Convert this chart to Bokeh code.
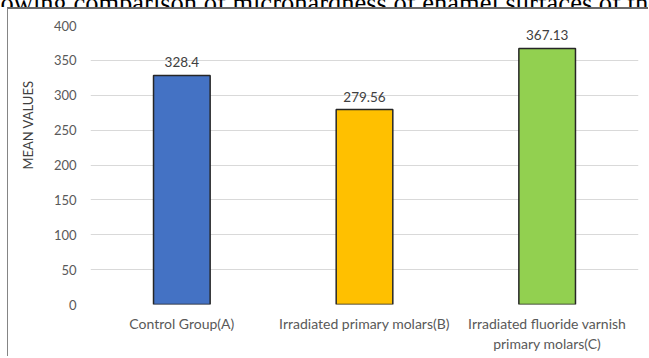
from bokeh.plotting import figure
from bokeh.layouts import column
from bokeh.models import ColumnDataSource, Range1d, FixedTicker, LinearAxis, Div
from bokeh.core.properties import value
from bokeh.embed import file_html
from bokeh.resources import INLINE

categories = ["Control Group(A)", "Irradiated primary molars(B)", "Irradiated fluoride varnish primary molars(C)"]
label_line1 = ["Control Group(A)", "Irradiated primary molars(B)", "Irradiated fluoride varnish"]
label_line2 = ["", "", "primary molars(C)"]
mean_values = [328.4, 279.56, 367.13]
value_labels = ["328.4", "279.56", "367.13"]
bar_colors = ["#4472C4", "#FFC000", "#92D050"]
y_ticks = [0, 50, 100, 150, 200, 250, 300, 350, 400]
caption_text = "showing comparison of microhardness of enamel surfaces of the"
y_title = "MEAN VALUES"

W, H = 641, 349
L, R, T, B = 82, 11, 16, 54

n = len(categories)
centres = [2 * i + 1 for i in range(n)]   # category slot i spans [2i, 2i+2]

p = figure(width=W, height=H, x_range=Range1d(0, 2 * n), y_range=Range1d(0, 400),
           x_axis_location=None, output_backend="svg", toolbar_location=None,
           min_border_left=L, min_border_right=R, min_border_top=T, min_border_bottom=B,
           styles={"margin-left": "7px", "border-left": "1px solid #858585", "border-top": "2px solid #6a6a6a"})
p.outline_line_color = None
p.background_fill_color = "white"
p.border_fill_color = "white"

src = ColumnDataSource(dict(x=centres, cat=categories, top=mean_values, color=bar_colors, lab=value_labels))
p.vbar(x="x", top="top", width=0.62, fill_color="color", line_color="#262626", line_width=1.5, source=src)
p.text(x="x", y="top", text="lab", source=src, y_offset=-8, text_align="center", text_baseline="bottom",
       text_font=value("Lato"), text_font_size="13.5px", text_color="#404040")

p.xgrid.grid_line_color = None
p.ygrid.grid_line_color = "#d9d9d9"
p.ygrid.grid_line_width = 1
p.yaxis.ticker = FixedTicker(ticks=y_ticks)

ax1 = LinearAxis(ticker=FixedTicker(ticks=centres),
                 major_label_overrides={c: t for c, t in zip(centres, label_line1)})
row2 = [(c, t) for c, t in zip(centres, label_line2) if t]
ax2 = LinearAxis(ticker=FixedTicker(ticks=[c for c, _ in row2]),
                 major_label_overrides={c: t for c, t in row2})
p.add_layout(ax1, "below")
p.add_layout(ax2, "below")

for ax in (ax1, ax2, p.yaxis[0]):
    ax.axis_line_color = None
    ax.major_tick_line_color = None
    ax.minor_tick_line_color = None
    ax.major_tick_out = 0
    ax.major_tick_in = 0
    ax.minor_tick_out = 0
    ax.minor_tick_in = 0
    ax.major_label_text_font = "Lato"
    ax.major_label_text_font_size = "13px"
    ax.major_label_text_color = "#595959"
for ax in (ax1, ax2):
    ax.major_label_text_font_size = "14px"
p.yaxis.major_label_standoff = 14
ax1.major_label_standoff = 10
ax2.major_label_standoff = 0

nb = "\u00a0" * 24
p.yaxis.axis_label = nb + y_title
p.yaxis.axis_label_text_font = "Lato"
p.yaxis.axis_label_text_font_size = "13px"
p.yaxis.axis_label_text_font_style = "normal"
p.yaxis.axis_label_text_color = "#404040"
p.yaxis.axis_label_standoff = 15

cap = Div(width=649, height=7, styles={"overflow": "hidden", "margin": "0", "padding": "0"},
          text=('<div style="font-family:\'Liberation Serif\',serif;font-size:26.5px;line-height:26px;'
                'white-space:nowrap;margin-top:-20px;margin-left:-23px;color:#000;">'
                + caption_text + '</div>'))

root = column(cap, p, spacing=0)
open("out.html", "w").write(file_html(root, INLINE))
